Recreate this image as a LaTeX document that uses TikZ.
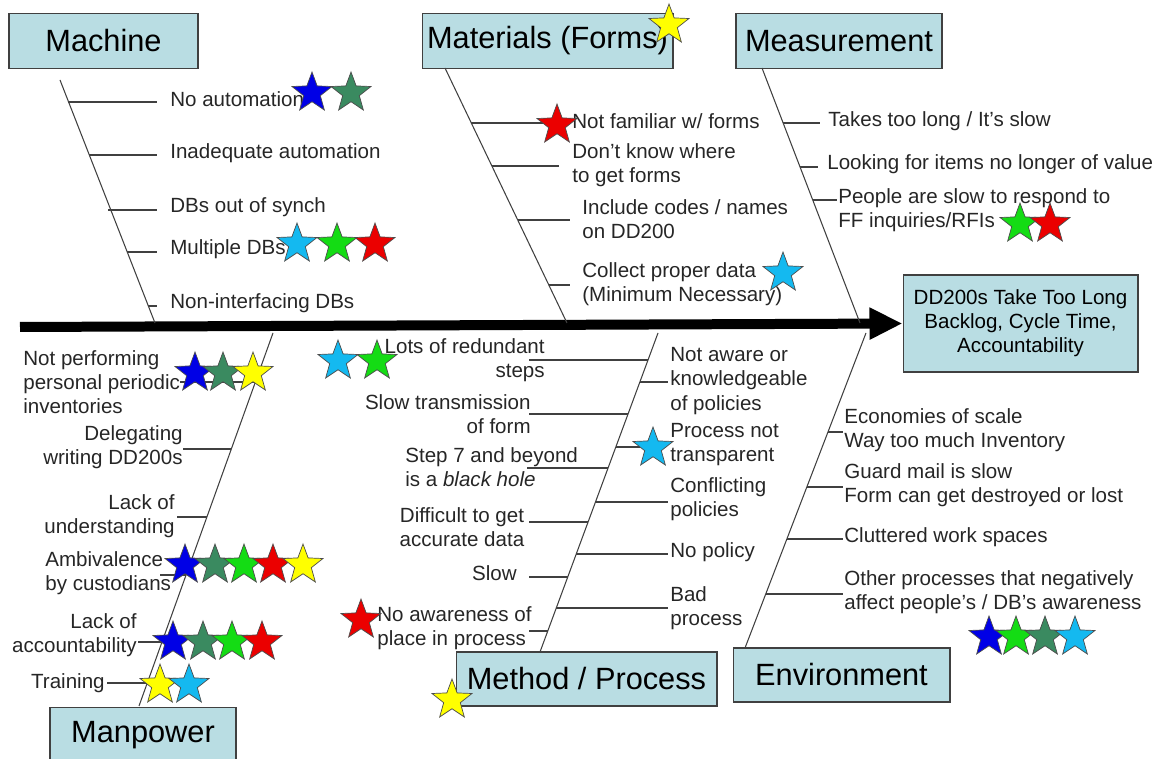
\documentclass[tikz,border=0pt]{standalone}
\usepackage{fontspec}
\setmainfont{Liberation Sans}
\usetikzlibrary{shapes.geometric,arrows.meta}

\definecolor{boxfill}{RGB}{185,221,227}
\definecolor{sblue}{RGB}{0,0,230}
\definecolor{sdgreen}{RGB}{58,138,96}
\definecolor{sgreen}{RGB}{20,220,20}
\definecolor{sred}{RGB}{235,0,0}
\definecolor{syellow}{RGB}{255,255,0}
\definecolor{scyan}{RGB}{20,185,240}

\tikzset{
  cause/.style={draw=black!75, fill=boxfill, line width=0.6pt, inner sep=0pt,
    font=\fontsize{17.5}{20}\selectfont},
  item/.style={font=\fontsize{11.7}{13.7}\selectfont, text=black!85, inner sep=0pt},
  bone/.style={black!75, line width=0.6pt},
  badge/.style={star, star points=5, star point ratio=2.4, minimum size=0.84cm,
    inner sep=0pt, draw=black!70, line width=0.4pt},
}

\begin{document}
\begin{tikzpicture}[x=0.02cm, y=-0.02cm]
\clip (0,0) rectangle (1157,759);

% the head and the six boxes
\node [cause, minimum width=4.7cm, minimum height=1.94cm, align=center,
  font=\fontsize{11.7}{13.7}\selectfont] (effect) at (1020.5,323.5)
  {DD200s Take Too Long\\Backlog, Cycle Time,\\Accountability};

\node [cause, minimum width=3.78cm, minimum height=1.1cm] (machine) at (103.5,41) {Machine};
\node [cause, minimum width=5.02cm, minimum height=1.1cm] (materials) at (547.5,41) {Materials (Forms)};
\node [cause, minimum width=4.12cm, minimum height=1.1cm] (measurement) at (839,41) {Measurement};
\node [cause, minimum width=3.72cm, minimum height=1.1cm] (manpower) at (143,735) {Manpower};
\node [cause, minimum width=5.22cm, minimum height=1.08cm] (method) at (586.5,679) {Method / Process};
\node [cause, minimum width=4.34cm, minimum height=1.08cm] (environment) at (841.5,675) {Environment};

% spine
\coordinate (tail) at (20,327);
\draw [line width=0.2cm, -{Triangle[length=0.66cm, width=0.6cm]}] (tail) -- (effect.west);

% bones
\coordinate (mcA) at (60,80);    \coordinate (mcB) at (155,323);
\coordinate (mtA) at (445,68);   \coordinate (mtB) at (567,323);
\coordinate (msA) at (762,68);   \coordinate (msB) at (860,323);
\coordinate (mpA) at (139,706);  \coordinate (mpB) at (273,333);
\coordinate (meA) at (540,652);  \coordinate (meB) at (658,333);
\coordinate (enA) at (745,648);  \coordinate (enB) at (866,333);

\draw [bone] (mcA) -- (mcB);
\draw [bone] (mtA) -- (mtB);
\draw [bone] (msA) -- (msB);
\draw [bone] (mpA) -- (mpB);
\draw [bone] (meA) -- (meB);
\draw [bone] (enA) -- (enB);

% Machine
\draw [bone] (68,102)--(157,102);
\draw [bone] (89,155)--(157,155);
\draw [bone] (108,210)--(157,210);
\draw [bone] (127,252)--(157,252);
\draw [bone] (148,306)--(157,306);
\node [item, anchor=west] (mc1) at (170,99) {No automation};
\node [item, anchor=west] (mc2) at (170,153) {Inadequate automation};
\node [item, anchor=west] (mc3) at (170,207) {DBs out of synch};
\node [item, anchor=west] (mc4) at (170,249) {Multiple DBs};
\node [item, anchor=west] (mc5) at (170,303) {Non-interfacing DBs};

% Materials
\draw [bone] (471,123)--(547,123);
\draw [bone] (492,166)--(559,166);
\draw [bone] (518,220)--(570,220);
\draw [bone] (549,285)--(570,285);
\node [item, anchor=west] (mt1) at (572,121) {Not familiar w/ forms};
\node [item, anchor=west, align=left] (mt2) at (572,165) {Don't know where\\to get forms};
\node [item, anchor=west, align=left] (mt3) at (582,219) {Include codes / names\\on DD200};
\node [item, anchor=west, align=left] (mt4) at (582,284) {Collect proper data\\(Minimum Necessary)};

% Measurement
\draw [bone] (783,123)--(820,123);
\draw [bone] (800,167)--(818,167);
\draw [bone] (813,200)--(837,200);
\node [item, anchor=west] (ms1) at (828,121) {Takes too long / It's slow};
\node [item, anchor=west] (ms2) at (827,164) {Looking for items no longer of value};
\node [item, anchor=west, align=left] (ms3) at (838,210) {People are slow to respond to\\FF inquiries/RFIs};

% Manpower
\draw [bone] (180,382)--(255,382);
\draw [bone] (183,449)--(231,449);
\draw [bone] (177,517)--(207,517);
\draw [bone] (160,575)--(186,575);
\draw [bone] (138,642)--(162,642);
\draw [bone] (107,683)--(147,683);
\node [item, anchor=west, align=left] (mp1) at (23,382) {Not performing\\personal periodic\\inventories};
\node [item, anchor=east, align=right] (mp2) at (183,447) {Delegating\\writing DD200s};
\node [item, anchor=east, align=right] (mp3) at (175,516) {Lack of\\understanding};
\node [item, anchor=west, align=left] (mp4) at (45,573) {Ambivalence\\by custodians};
\node [item, anchor=east, align=right] (mp5) at (137,635) {Lack of\\accountability};
\node [item, anchor=east] (mp6) at (105,683) {Training};

% Method / Process
\draw [bone] (529,360)--(648,360);
\draw [bone] (529,414)--(628,414);
\draw [bone] (527,468)--(608,468);
\draw [bone] (529,522)--(588,522);
\draw [bone] (529,577)--(568,577);
\draw [bone] (529,631)--(548,631);
\draw [bone] (640,382)--(668,382);
\draw [bone] (616,447)--(640,447);
\draw [bone] (595,502)--(668,502);
\draw [bone] (576,554)--(668,554);
\draw [bone] (556,608)--(668,608);
\node [item, anchor=east, align=right] (me1) at (545,360) {Lots of redundant\\steps};
\node [item, anchor=east, align=right] (me2) at (531,414) {Slow transmission\\of form};
\node [item, anchor=west, align=left] (me3) at (405,467) {Step 7 and beyond\\is a \textit{black hole}};
\node [item, align=center] (me4) at (462,527) {Difficult to get\\accurate data};
\node [item, anchor=east] (me5) at (517,573) {Slow};
\node [item, anchor=west, align=left] (me6) at (377,628) {No awareness of\\place in process};
\node [item, anchor=west, align=left] (me7) at (670,381) {Not aware or\\knowledgeable\\of policies};
\node [item, anchor=west, align=left] (me8) at (670,445) {Process not\\transparent};
\node [item, anchor=west, align=left] (me9) at (670,499) {Conflicting\\policies};
\node [item, anchor=west] (me10) at (670,552) {No policy};
\node [item, anchor=west, align=left] (me11) at (670,608) {Bad\\process};

% Environment
\draw [bone] (828,432)--(843,432);
\draw [bone] (807,487)--(843,487);
\draw [bone] (787,539)--(843,539);
\draw [bone] (766,594)--(843,594);
\node [item, anchor=west, align=left] (en1) at (844,430) {Economies of scale\\Way too much Inventory};
\node [item, anchor=west, align=left] (en2) at (844,485) {Guard mail is slow\\Form can get destroyed or lost};
\node [item, anchor=west] (en3) at (844,537) {Cluttered work spaces};
\node [item, anchor=west, align=left] (en4) at (844,592) {Other processes that negatively\\affect people's / DB's awareness};

% stars (votes)
\node [badge, fill=sblue]   (v1) at (312,93) {};
\node [badge, fill=sdgreen] (v2) at (351,93) {};
\node [badge, fill=scyan]   (v3) at (297,244) {};
\node [badge, fill=sgreen]  (v4) at (337,244) {};
\node [badge, fill=sred]    (v5) at (375,244) {};

\node [badge, fill=syellow] (v6) at (669,25) {};
\node [badge, fill=sred]    (v7) at (557,125) {};
\node [badge, fill=scyan]   (v8) at (783,273) {};

\node [badge, fill=sgreen]  (v9) at (1020,224) {};
\node [badge, fill=sred]    (v10) at (1050,224) {};

\node [badge, fill=sblue]   (v11) at (195,373) {};
\node [badge, fill=sdgreen] (v12) at (223,373) {};
\node [badge, fill=syellow] (v13) at (253,373) {};
\node [badge, fill=sblue]   (v14) at (185,565) {};
\node [badge, fill=sdgreen] (v15) at (215,565) {};
\node [badge, fill=sgreen]  (v16) at (244,565) {};
\node [badge, fill=sred]    (v17) at (273,565) {};
\node [badge, fill=syellow] (v18) at (303,565) {};
\node [badge, fill=sblue]   (v19) at (173,642) {};
\node [badge, fill=sdgreen] (v20) at (203,642) {};
\node [badge, fill=sgreen]  (v21) at (232,642) {};
\node [badge, fill=sred]    (v22) at (262,642) {};
\node [badge, fill=syellow] (v23) at (160,685) {};
\node [badge, fill=scyan]   (v24) at (189,685) {};

\node [badge, fill=scyan]   (v25) at (338,361) {};
\node [badge, fill=sgreen]  (v26) at (377,361) {};
\node [badge, fill=sred]    (v27) at (361,620) {};
\node [badge, fill=syellow] (v28) at (452,700) {};
\node [badge, fill=scyan]   (v29) at (653,448) {};

\node [badge, fill=sblue]   (v30) at (989,637) {};
\node [badge, fill=sgreen]  (v31) at (1016,637) {};
\node [badge, fill=sdgreen] (v32) at (1045,637) {};
\node [badge, fill=scyan]   (v33) at (1075,637) {};

\end{tikzpicture}
\end{document}
